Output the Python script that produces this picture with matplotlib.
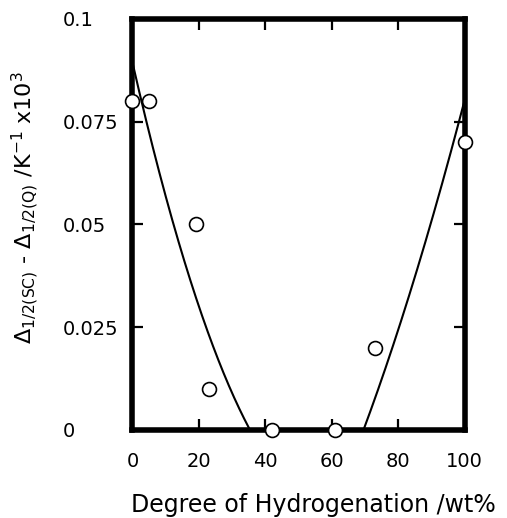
import numpy as np
import matplotlib.pyplot as plt

plt.rcParams['font.family'] = ['DejaVu Sans']
plt.rcParams['mathtext.fontset'] = 'dejavusans'

# measured points
hydro = [0, 5, 19, 23, 42, 61, 73, 100]
delta = [0.080, 0.080, 0.050, 0.010, 0.0, 0.0, 0.020, 0.070]

# points along the two trend curves
left_x = [0, 3.9, 8.0, 13.0, 18.1, 23.1, 28.2, 35.0]
left_y = [0.0893, 0.0766, 0.0628, 0.0474, 0.0345, 0.0231, 0.0134, 0.0]
right_x = [69.3, 73.1, 78.2, 83.2, 88.3, 93.3, 97.4, 99.9]
right_y = [0.0, 0.0073, 0.0195, 0.0324, 0.0462, 0.0608, 0.0722, 0.0795]

xticks = [0, 20, 40, 60, 80, 100]
yticks = [0, 0.025, 0.05, 0.075, 0.1]
ytick_labels = ['0', '0.025', '0.05', '0.075', '0.1']

fig = plt.figure(figsize=(5.07, 5.18), dpi=100)
ax = fig.add_axes([0.2613, 0.170, 0.655, 0.7934])

# quadratic trend lines
for cx, cy in [(left_x, left_y), (right_x, right_y)]:
    coef = np.polyfit(cx, cy, 2)
    xs = np.linspace(cx[0], cx[-1], 200)
    ax.plot(xs, np.polyval(coef, xs), color='black', lw=1.5, zorder=2)

ax.plot(hydro, delta, 'o', ms=10, mfc='white', mec='black', mew=1.2,
        clip_on=False, zorder=5)

ax.set_xlim(0, 100)
ax.set_ylim(0, 0.1)
ax.set_xticks(xticks)
ax.set_yticks(yticks)
ax.set_yticklabels(ytick_labels)
# y tick labels are left-aligned in one column
for lbl in ax.get_yticklabels():
    lbl.set_ha('left')

for s in ax.spines.values():
    s.set_linewidth(4)
ax.tick_params(direction='in', length=8, width=1.6, top=True, right=True,
               labelsize=14)
ax.tick_params(axis='x', pad=16)
ax.tick_params(axis='y', pad=50)

ax.set_xlabel('Degree of Hydrogenation /wt%', fontsize=17)
ax.xaxis.set_label_coords(0.546, -0.153)
ax.set_ylabel(r'$\Delta_{\mathregular{1/2(SC)}}$ - $\Delta_{\mathregular{1/2(Q)}}$ /K$^{\mathregular{-1}}$ x10$^{\mathregular{3}}$',
              fontsize=16)
ax.yaxis.set_label_coords(-0.276, 0.54)

fig.savefig('out.png', dpi=100)
